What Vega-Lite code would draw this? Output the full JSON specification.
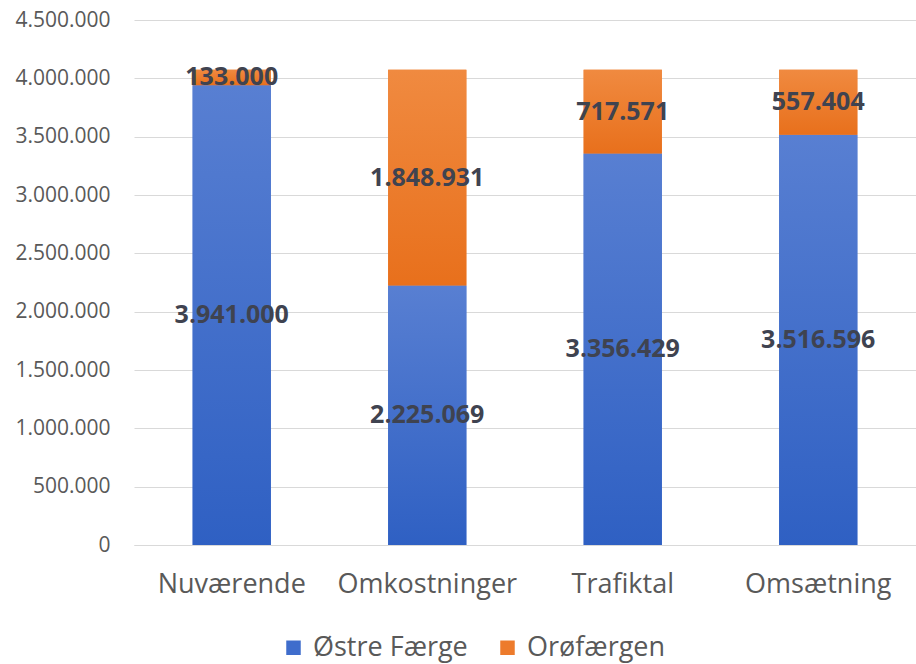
{
  "$schema": "https://vega.github.io/schema/vega-lite/v6.json",
  "width": 782,
  "height": 525,
  "autosize": "none",
  "padding": {"left": 134, "top": 20, "right": 0, "bottom": 119},
  "background": "white",
  "config": {
    "view": {"stroke": null},
    "locale": {"number": {"decimal": ",", "thousands": ".", "grouping": [3], "currency": ["", " kr."]}},
    "font": "Open Sans"
  },
  "data": {
    "values": [
      {"kategori": "Nuværende", "serie": "Østre Færge", "orden": 1, "antal": 3941000},
      {"kategori": "Nuværende", "serie": "Orøfærgen", "orden": 2, "antal": 133000},
      {"kategori": "Omkostninger", "serie": "Østre Færge", "orden": 1, "antal": 2225069},
      {"kategori": "Omkostninger", "serie": "Orøfærgen", "orden": 2, "antal": 1848931},
      {"kategori": "Trafiktal", "serie": "Østre Færge", "orden": 1, "antal": 3356429},
      {"kategori": "Trafiktal", "serie": "Orøfærgen", "orden": 2, "antal": 717571},
      {"kategori": "Omsætning", "serie": "Østre Færge", "orden": 1, "antal": 3516596},
      {"kategori": "Omsætning", "serie": "Orøfærgen", "orden": 2, "antal": 557404}
    ]
  },
  "transform": [
    {"stack": "antal", "groupby": ["kategori"], "sort": [{"field": "orden", "order": "ascending"}], "as": ["y0", "y1"]},
    {"calculate": "(datum.y0 + datum.y1) / 2", "as": "ymid"}
  ],
  "encoding": {
    "x": {
      "field": "kategori",
      "type": "nominal",
      "sort": ["Nuværende", "Omkostninger", "Trafiktal", "Omsætning"],
      "scale": {"paddingInner": 0.6, "paddingOuter": 0.3},
      "axis": {
        "title": null,
        "labelAngle": 0,
        "labelFont": "Open Sans",
        "labelFontSize": 27,
        "labelColor": "#595959",
        "labelPadding": 26,
        "ticks": false,
        "domainColor": "#d9d9d9",
        "labelBaseline": "top"
      }
    }
  },
  "layer": [
    {
      "mark": {"type": "bar"},
      "encoding": {
        "y": {
          "field": "y0",
          "type": "quantitative",
          "scale": {"domain": [0, 4500000]},
          "axis": {
            "title": null,
            "values": [0, 500000, 1000000, 1500000, 2000000, 2500000, 3000000, 3500000, 4000000, 4500000],
            "format": ",d",
            "labelFont": "Open Sans",
            "labelFontSize": 21,
            "labelColor": "#595959",
            "labelPadding": 24,
            "ticks": false,
            "domain": false,
            "gridColor": "#d9d9d9",
            "gridWidth": 1
          }
        },
        "y2": {"field": "y1"},
        "color": {
          "field": "serie",
          "type": "nominal",
          "sort": ["Østre Færge", "Orøfærgen"],
          "scale": {"domain": ["Østre Færge", "Orøfærgen"], "range": ["#3f6dcc", "#ed7b2c"]},
          "legend": {
            "title": null,
            "orient": "none",
            "direction": "horizontal",
            "legendX": 146,
            "legendY": 614,
            "symbolType": "square",
            "symbolSize": 210,
            "symbolStrokeWidth": 0,
            "labelFont": "Open Sans",
            "labelFontSize": 27,
            "labelLimit": 400,
            "labelColor": "#595959",
            "labelOffset": 6,
            "columnPadding": 26,
            "symbolOpacity": 1
          }
        }
      }
    },
    {
      "mark": {"type": "bar"},
      "encoding": {
        "y": {"field": "y0", "type": "quantitative"},
        "y2": {"field": "y1"},
        "fill": {
          "condition": {
            "test": "datum.serie === 'Østre Færge'",
            "value": {"gradient": "linear", "x1": 0, "y1": 0, "x2": 0, "y2": 1, "stops": [{"offset": 0, "color": "#587fd2"}, {"offset": 1, "color": "#2f60c3"}]}
          },
          "value": {"gradient": "linear", "x1": 0, "y1": 0, "x2": 0, "y2": 1, "stops": [{"offset": 0, "color": "#f08a40"}, {"offset": 1, "color": "#e8701c"}]}
        }
      }
    },
    {
      "mark": {"type": "text", "font": "Open Sans", "fontWeight": "bold", "fontSize": 25, "color": "#3f4350", "baseline": "middle", "align": "center"},
      "encoding": {
        "y": {"field": "ymid", "type": "quantitative"},
        "text": {"field": "antal", "type": "quantitative", "format": ",d"}
      }
    }
  ]
}
